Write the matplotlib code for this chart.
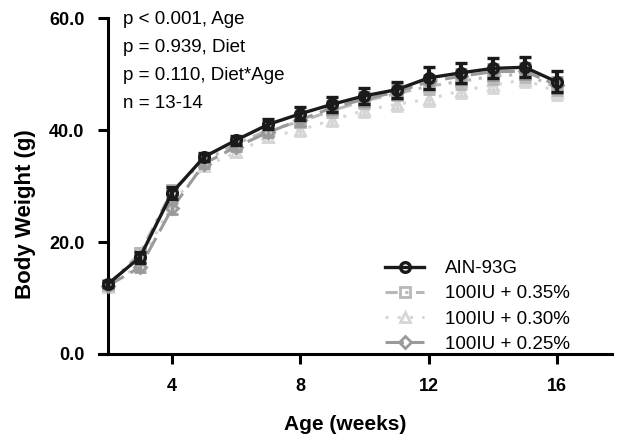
import matplotlib
matplotlib.use("Agg")
import matplotlib.pyplot as plt
from matplotlib.lines import Line2D

plt.rcParams['font.family'] = ['Liberation Sans', 'DejaVu Sans']

weeks = [2, 3, 4, 5, 6, 7, 8, 9, 10, 11, 12, 13, 14, 15, 16]
ain93g = [12.5, 17.3, 28.8, 35.2, 38.2, 41.0, 42.9, 44.6, 46.1, 47.2, 49.3, 50.2, 51.0, 51.2, 48.6]
ain93g_err = [0.6, 1.0, 1.1, 0.7, 0.8, 0.9, 1.2, 1.3, 1.4, 1.4, 2.0, 1.8, 1.8, 1.8, 1.9]
iu_035 = [12.3, 18.0, 29.2, 34.5, 37.5, 40.0, 41.5, 43.5, 45.2, 46.5, 47.8, 48.7, 49.6, 50.0, 47.6]
iu_035_err = [0.5, 1.0, 1.0, 0.8, 0.8, 0.9, 1.0, 1.1, 1.2, 1.2, 1.3, 1.3, 1.4, 1.4, 1.4]
iu_030 = [12.0, 16.0, 27.0, 33.5, 36.0, 38.8, 40.0, 41.8, 43.5, 44.6, 45.5, 47.0, 48.0, 49.0, 46.8]
iu_030_err = [0.5, 0.9, 1.0, 0.8, 0.8, 0.9, 1.0, 1.1, 1.2, 1.2, 1.3, 1.3, 1.4, 1.4, 1.4]
iu_025 = [12.2, 15.5, 26.0, 34.0, 37.0, 39.6, 41.8, 44.0, 45.5, 46.8, 48.6, 49.6, 50.4, 50.5, 48.0]
iu_025_err = [0.5, 0.9, 1.0, 0.8, 0.8, 0.9, 1.0, 1.1, 1.2, 1.2, 1.3, 1.3, 1.4, 1.4, 1.4]
series_labels = ['AIN-93G', '100IU + 0.35%', '100IU + 0.30%', '100IU + 0.25%']
stats_text = ['p < 0.001, Age', 'p = 0.939, Diet', 'p = 0.110, Diet*Age', 'n = 13-14']

BLACK = '#1a1a1a'
C035 = '#b8b8b8'
C030 = '#d6d6d6'
C025 = '#9a9a9a'
LS035 = (0, (4, 2.5, 1, 2.5))
LS030 = (0, (1, 3))
LS025 = (0, (6, 2.5))

fig = plt.figure(figsize=(6.22, 4.37), dpi=100)
ax = fig.add_axes([99/622, (437-354)/437, (612-99)/622, 336/437])

common = dict(lw=2.2, ms=7, mfc='none', mew=2, capsize=4.5, capthick=3, elinewidth=2.5, clip_on=False)
ax.errorbar(weeks, iu_030, yerr=iu_030_err, color=C030, linestyle=LS030, marker='^', zorder=2, **common)
ax.errorbar(weeks, iu_035, yerr=iu_035_err, color=C035, linestyle=LS035, marker='s', zorder=3, **common)
ax.errorbar(weeks, iu_025, yerr=iu_025_err, color=C025, linestyle=LS025, marker='D', zorder=4,
            **{**common, 'ms': 6})
ax.errorbar(weeks, ain93g, yerr=ain93g_err, color=BLACK, marker='o',
            zorder=5, **{**common, 'lw': 2.4, 'mew': 2.4, 'elinewidth': 3})

ax.set_xlim(1.72, 17.72)
ax.set_ylim(0, 60)
ax.spines['top'].set_visible(False)
ax.spines['right'].set_visible(False)
ax.spines['left'].set_position(('data', 2))
ax.spines['left'].set_linewidth(2.2)
ax.spines['bottom'].set_linewidth(2.2)
ax.set_xticks([4, 8, 12, 16])
ax.set_yticks([0, 20, 40, 60])
ax.set_yticklabels(['0.0', '20.0', '40.0', '60.0'])
ax.tick_params(axis='both', width=2.2, length=7, labelsize=13)
ax.tick_params(axis='y', pad=10)
ax.tick_params(axis='x', pad=10)
for lbl in ax.get_xticklabels() + ax.get_yticklabels():
    lbl.set_fontweight('bold')

fig.text(345/622, 1 - 424/437, 'Age (weeks)', fontsize=15, fontweight='bold', ha='center', va='center')
fig.text(26/622, 1 - 214/437, 'Body Weight (g)', fontsize=16, fontweight='bold', ha='center',
         va='center', rotation=90)

for i, t in enumerate(stats_text):
    fig.text(123/622, 1 - (19 + 28*i)/437, t, fontsize=13.5, va='center', ha='left')

handles = [
    Line2D([], [], color=BLACK, lw=2.4, marker='o', ms=7, mfc='none', mec=BLACK, mew=2.4),
    Line2D([], [], color=C035, lw=2.2, linestyle=LS035, marker='s', ms=7, mfc='none', mec=C035, mew=2),
    Line2D([], [], color=C030, lw=2.2, linestyle=LS030, marker='^', ms=7, mfc='none', mec=C030, mew=2),
    Line2D([], [], color=C025, lw=2.2, linestyle=LS025, marker='D', ms=6, mfc='none', mec=C025, mew=2),
]
fig.legend(handles, series_labels, loc='upper left', bbox_to_anchor=(385/622, 1 - 260/437),
           bbox_transform=fig.transFigure, frameon=False, fontsize=13.5, handlelength=2.1,
           handletextpad=1.1, labelspacing=0.43, borderpad=0, borderaxespad=0)

fig.savefig('out.png', dpi=100)
